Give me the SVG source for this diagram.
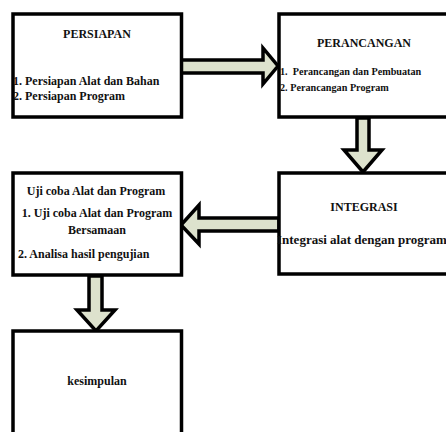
<svg xmlns="http://www.w3.org/2000/svg" width="446" height="432" viewBox="0 0 446 432">
<style>
.box{fill:#fff;stroke:#000;stroke-width:3.5}
.arr{fill:#dde2cd;stroke:#000;stroke-width:3.5;stroke-linejoin:miter}
text{font-family:"Liberation Serif","Times New Roman",serif;font-weight:bold;fill:#111}
.t{font-size:12px}
.s{font-size:10.2px}
.l{font-size:13px}
.m{text-anchor:middle}
</style>
<rect width="446" height="432" fill="#fff"/>
<g id="connectors">
<polygon class="arr" points="181,60 263,60 263,48 278,66 263,84 263,73 181,73"/>
<polygon class="arr" points="357,118 369,118 369,150 382,150 363,172 344,150 357,150"/>
<polygon class="arr" points="279,218 199,218 199,205 181,225 199,244 199,231 279,231"/>
<polygon class="arr" points="89,276 102,276 102,310 115,310 96,331 77,310 89,310"/>
</g>
<g id="persiapan">
<rect class="box" x="13" y="14" width="168.5" height="103"/>
<text class="t m" x="97" y="38">PERSIAPAN</text>
<text class="t" x="13" y="85">1. Persiapan Alat dan Bahan</text>
<text class="t" x="13" y="100">2. Persiapan Program</text>
</g>
<g id="perancangan">
<rect class="box" x="279" y="14" width="180" height="103"/>
<text class="t m" x="364" y="47">PERANCANGAN</text>
<text class="s" x="280" y="75" xml:space="preserve">1.  Perancangan dan Pembuatan</text>
<text class="s" x="280" y="91">2. Perancangan Program</text>
</g>
<g id="integrasi">
<rect class="box" x="279" y="173" width="180" height="101"/>
<text class="t m" x="364" y="211">INTEGRASI</text>
<text class="l" x="277" y="244">Integrasi alat dengan program</text>
</g>
<g id="ujicoba">
<rect class="box" x="13" y="173" width="168.5" height="102"/>
<text class="t m" x="96" y="195">Uji coba Alat dan Program</text>
<text class="t m" x="97" y="217">1. Uji coba Alat dan Program</text>
<text class="t m" x="97" y="234">Bersamaan</text>
<text class="t" x="18" y="258">2. Analisa hasil pengujian</text>
</g>
<g id="kesimpulan">
<rect class="box" x="13" y="331" width="168.5" height="120"/>
<text class="t m" x="97" y="385">kesimpulan</text>
</g>
</svg>
